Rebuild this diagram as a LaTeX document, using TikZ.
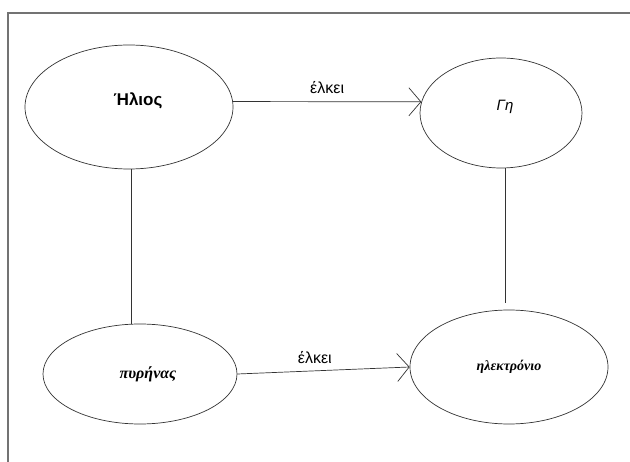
\documentclass[tikz,border=0pt]{standalone}
\usepackage{fontspec}
\setmainfont{Liberation Sans}
\newfontfamily\serifgr{Liberation Serif}
\usetikzlibrary{shapes.geometric,arrows.meta}
\begin{document}
\begin{tikzpicture}[x=1pt,y=-1pt,
    concept/.style={draw=black!80, ellipse, inner sep=0pt, line width=0.7pt},
    link/.style={draw=black!80, line width=0.7pt},
    attracts/.style={link, -{Straight Barb[length=12pt,width=28pt,line width=0.7pt]}},
    verb/.style={font=\fontsize{16}{18}\selectfont}]
    \useasboundingbox (0,0) rectangle (630,462);

    % Frame
    \draw[black!55, line width=1.2pt] (8,462) -- (8,13) -- (630,13);

    % Concepts
    \node[concept, minimum width=208pt, minimum height=124pt] (helios) at (129,107) {\hspace*{18pt}\raisebox{16pt}{\fontsize{17}{19}\selectfont\bfseries Ήλιος}};
    \node[concept, minimum width=162pt, minimum height=110pt] (gi) at (501,113) {\hspace*{8pt}\raisebox{16pt}{\fontsize{15}{17}\selectfont\itshape Γη}};
    \node[concept, minimum width=194pt, minimum height=100pt] (pyrinas) at (140,374) {\hspace*{16pt}\serifgr\fontsize{16}{18}\selectfont\bfseries\itshape πυρήνας};
    \node[concept, minimum width=198pt, minimum height=114pt] (ilektronio) at (509,367) {\serifgr\fontsize{14}{16}\selectfont\bfseries\itshape ηλεκτρόνιο};

    % Links
    \draw[attracts] (helios.3) -- node[verb, midway, above=4pt] (verbA) {έλκει} (gi.172);
    \draw[attracts] (pyrinas.east) -- node[verb, pos=0.45, above=4pt] (verbB) {έλκει} (ilektronio.west);
    \draw[link] (helios.-88) -- (helios.-88 |- pyrinas.north);
    \draw[link] (gi.-85) -- ([yshift=7pt]gi.-85 |- ilektronio.north);
\end{tikzpicture}
\end{document}
